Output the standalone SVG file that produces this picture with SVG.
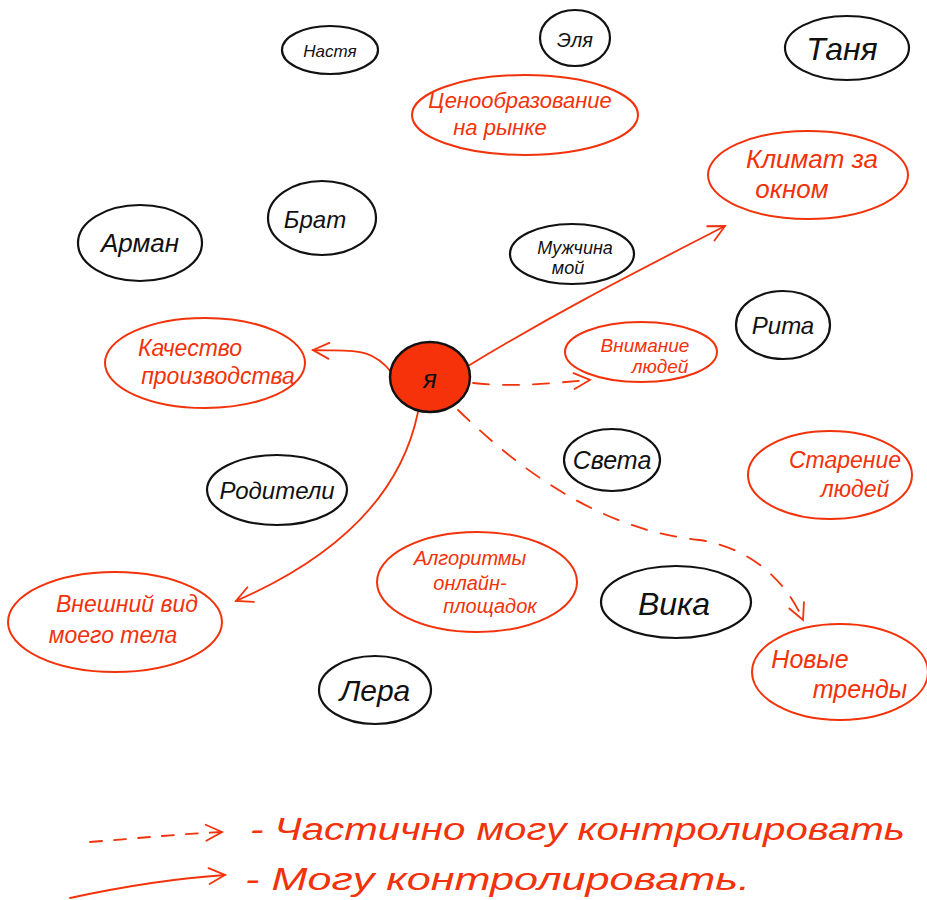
<svg xmlns="http://www.w3.org/2000/svg" width="927" height="900" viewBox="0 0 927 900">
<defs>
<style>
.bk{fill:none;stroke:#111;stroke-width:2.2}
.rd{fill:none;stroke:#f2320a;stroke-width:2}
.ln{fill:none;stroke:#f2320a;stroke-width:1.8;stroke-linecap:round}
.ds{stroke-dasharray:16 14}
.tb{font-family:"Liberation Sans",Arial,sans-serif;font-style:italic;fill:#111;text-anchor:middle}
.tr{font-family:"Liberation Sans",Arial,sans-serif;font-style:italic;fill:#f2320a;text-anchor:middle}
</style>
<marker id="ah" viewBox="0 0 20 20" refX="18" refY="10" markerWidth="20" markerHeight="20" markerUnits="userSpaceOnUse" orient="auto">
<path d="M2 2 L18 10 L2 18" fill="none" stroke="#f2320a" stroke-width="1.8" stroke-linecap="round"/>
</marker>
</defs>
<rect width="927" height="900" fill="#fff"/>

<g id="connectors">
<path class="ln" d="M468 366 C560 310 640 270 725 226" marker-end="url(#ah)"/>
<path class="ln" d="M392 373 C370 345 350 352 313 350" marker-end="url(#ah)"/>
<path class="ln" d="M418 412 C400 500 330 560 236 601" marker-end="url(#ah)"/>
<path class="ln ds" d="M473 383 C520 388 560 382 590 380" marker-end="url(#ah)"/>
<path class="ln ds" d="M458 410 C520 470 600 530 700 540 C760 550 790 590 803 620" marker-end="url(#ah)"/>
</g>

<g id="n-nastya"><ellipse class="bk" cx="330" cy="50" rx="48" ry="24"/><text class="tb" x="330" y="57" font-size="17">Настя</text></g>
<g id="n-elya"><ellipse class="bk" cx="575" cy="38" rx="35" ry="28"/><text class="tb" x="575" y="47" font-size="20">Эля</text></g>
<g id="n-tanya"><ellipse class="bk" cx="847" cy="48" rx="62" ry="32"/><text class="tb" x="842" y="60" font-size="32">Таня</text></g>
<g id="n-cena"><ellipse class="rd" cx="525" cy="115" rx="113" ry="40"/><text class="tr" font-size="22"><tspan x="520" y="108">Ценообразование</tspan><tspan x="500" y="135">на рынке</tspan></text></g>
<g id="n-klimat"><ellipse class="rd" cx="808" cy="175" rx="100" ry="44"/><text class="tr" font-size="26"><tspan x="812" y="168">Климат за</tspan><tspan x="792" y="198">окном</tspan></text></g>
<g id="n-arman"><ellipse class="bk" cx="140" cy="243" rx="62" ry="38"/><text class="tb" x="140" y="252" font-size="26">Арман</text></g>
<g id="n-brat"><ellipse class="bk" cx="322" cy="218" rx="54" ry="37"/><text class="tb" x="315" y="228" font-size="24">Брат</text></g>
<g id="n-muzh"><ellipse class="bk" cx="572" cy="254" rx="62" ry="30"/><text class="tb" font-size="18"><tspan x="575" y="254">Мужчина</tspan><tspan x="568" y="274">мой</tspan></text></g>
<g id="n-rita"><ellipse class="bk" cx="783" cy="325" rx="47" ry="34"/><text class="tb" x="783" y="334" font-size="24">Рита</text></g>
<g id="n-kachestvo"><ellipse class="rd" cx="205" cy="363" rx="100" ry="45"/><text class="tr" font-size="23"><tspan x="190" y="356">Качество</tspan><tspan x="218" y="384">производства</tspan></text></g>
<g id="n-ya"><ellipse cx="430" cy="377" rx="40" ry="35" fill="#f5320a" stroke="#111" stroke-width="2.4"/><text class="tb" x="430" y="388" font-size="26">я</text></g>
<g id="n-vnimanie"><ellipse class="rd" cx="641" cy="352" rx="76" ry="30"/><text class="tr" font-size="19"><tspan x="645" y="352">Внимание</tspan><tspan x="660" y="373">людей</tspan></text></g>
<g id="n-sveta"><ellipse class="bk" cx="612" cy="460" rx="48" ry="31"/><text class="tb" x="612" y="469" font-size="25">Света</text></g>
<g id="n-starenie"><ellipse class="rd" cx="830" cy="475" rx="82" ry="44"/><text class="tr" font-size="23"><tspan x="845" y="468">Старение</tspan><tspan x="855" y="497">людей</tspan></text></g>
<g id="n-roditeli"><ellipse class="bk" cx="277" cy="490" rx="70" ry="35"/><text class="tb" x="277" y="499" font-size="24">Родители</text></g>
<g id="n-algoritmy"><ellipse class="rd" cx="477" cy="582" rx="100" ry="50"/><text class="tr" font-size="20"><tspan x="470" y="565">Алгоритмы</tspan><tspan x="470" y="590">онлайн-</tspan><tspan x="490" y="613">площадок</tspan></text></g>
<g id="n-vika"><ellipse class="bk" cx="676" cy="602" rx="75" ry="36"/><text class="tb" x="674" y="615" font-size="32">Вика</text></g>
<g id="n-vneshniy"><ellipse class="rd" cx="115" cy="622" rx="107" ry="50"/><text class="tr" font-size="23"><tspan x="127" y="612">Внешний вид</tspan><tspan x="113" y="643">моего тела</tspan></text></g>
<g id="n-trendy"><ellipse class="rd" cx="840" cy="672" rx="88" ry="48"/><text class="tr" font-size="25"><tspan x="810" y="668">Новые</tspan><tspan x="860" y="698">тренды</tspan></text></g>
<g id="n-lera"><ellipse class="bk" cx="375" cy="690" rx="56" ry="34"/><text class="tb" x="375" y="701" font-size="30">Лера</text></g>

<g id="legend">
<path class="ln ds" d="M90 842 C140 838 180 834 222 832" marker-end="url(#ah)" style="stroke-dasharray:12 12"/>
<path class="ln" d="M70 898 C130 885 180 878 225 875" marker-end="url(#ah)"/>
<text class="tr" x="250" y="840" font-size="31" textLength="655" lengthAdjust="spacingAndGlyphs" style="text-anchor:start">- Частично могу контролировать</text>
<text class="tr" x="245" y="890" font-size="31" textLength="505" lengthAdjust="spacingAndGlyphs" style="text-anchor:start">- Могу контролировать.</text>
</g>
</svg>
